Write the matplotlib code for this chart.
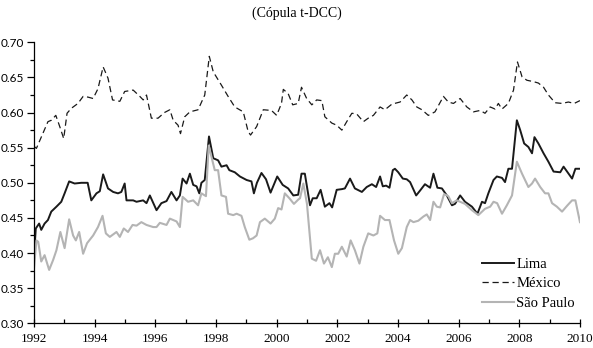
import matplotlib.pyplot as plt
from matplotlib.ticker import MultipleLocator, FormatStrFormatter

# series (decimal year, correlation)
lima_x = [1992.00, 1992.06, 1992.17, 1992.24, 1992.35, 1992.46, 1992.57, 1992.74, 1992.90, 1993.01,
          1993.16, 1993.34, 1993.56, 1993.67, 1993.77, 1993.89, 1994.06, 1994.17, 1994.28, 1994.44,
          1994.61, 1994.77, 1994.88, 1994.99, 1995.05, 1995.27, 1995.38, 1995.60, 1995.71, 1995.82,
          1996.04, 1996.20, 1996.37, 1996.53, 1996.70, 1996.81, 1996.90, 1997.03, 1997.14, 1997.25,
          1997.36, 1997.45, 1997.52, 1997.63, 1997.77, 1997.91, 1998.07, 1998.18, 1998.35, 1998.44,
          1998.62, 1998.79, 1999.01, 1999.17, 1999.25, 1999.35, 1999.50, 1999.65, 1999.80, 2000.02,
          2000.20, 2000.38, 2000.55, 2000.71, 2000.82, 2000.93, 2001.10, 2001.19, 2001.32, 2001.45,
          2001.59, 2001.74, 2001.83, 2001.98, 2002.15, 2002.25, 2002.42, 2002.58, 2002.81, 2002.97,
          2003.14, 2003.28, 2003.41, 2003.50, 2003.61, 2003.72, 2003.83, 2003.90, 2004.01, 2004.16,
          2004.29, 2004.40, 2004.60, 2004.73, 2004.89, 2005.06, 2005.17, 2005.30, 2005.45, 2005.61,
          2005.78, 2005.88, 2006.05, 2006.21, 2006.44, 2006.62, 2006.77, 2006.87, 2006.98, 2007.15,
          2007.26, 2007.43, 2007.53, 2007.64, 2007.76, 2007.92, 2008.03, 2008.16, 2008.30, 2008.42,
          2008.50, 2008.63, 2008.80, 2008.96, 2009.13, 2009.35, 2009.46, 2009.59, 2009.74, 2009.85,
          2010.00]
lima_y = [0.395, 0.435, 0.442, 0.433, 0.442, 0.447, 0.459, 0.466, 0.473, 0.485,
          0.502, 0.499, 0.500, 0.500, 0.500, 0.475, 0.485, 0.488, 0.512, 0.492,
          0.487, 0.485, 0.487, 0.499, 0.475, 0.475, 0.473, 0.475, 0.471, 0.482,
          0.461, 0.471, 0.474, 0.487, 0.475, 0.482, 0.506, 0.499, 0.513, 0.497,
          0.495, 0.485, 0.500, 0.504, 0.566, 0.535, 0.532, 0.523, 0.525, 0.518,
          0.515, 0.509, 0.504, 0.502, 0.485, 0.500, 0.514, 0.505, 0.486, 0.509,
          0.497, 0.492, 0.482, 0.483, 0.513, 0.513, 0.468, 0.478, 0.478, 0.490,
          0.466, 0.471, 0.465, 0.490, 0.491, 0.492, 0.506, 0.492, 0.487, 0.494,
          0.498, 0.494, 0.509, 0.495, 0.496, 0.493, 0.518, 0.520, 0.515, 0.506,
          0.505, 0.501, 0.482, 0.489, 0.498, 0.493, 0.513, 0.493, 0.492, 0.482,
          0.468, 0.470, 0.482, 0.473, 0.466, 0.456, 0.473, 0.471, 0.485, 0.504,
          0.509, 0.507, 0.501, 0.520, 0.520, 0.589, 0.575, 0.556, 0.551, 0.542,
          0.565, 0.556, 0.542, 0.530, 0.516, 0.515, 0.523, 0.515, 0.506, 0.520,
          0.520]

mexico_x = [1992.00, 1992.08, 1992.46, 1992.57, 1992.72, 1992.85, 1992.98, 1993.09, 1993.23, 1993.45,
            1993.62, 1993.78, 1993.95, 1994.11, 1994.28, 1994.44, 1994.59, 1994.83, 1994.99, 1995.27,
            1995.49, 1995.60, 1995.71, 1995.87, 1996.09, 1996.30, 1996.48, 1996.59, 1996.75, 1996.83,
            1996.97, 1997.14, 1997.41, 1997.63, 1997.78, 1997.91, 1998.18, 1998.40, 1998.62, 1998.90,
            1999.06, 1999.14, 1999.34, 1999.56, 1999.83, 2000.00, 2000.16, 2000.22, 2000.38, 2000.53,
            2000.71, 2000.82, 2000.99, 2001.16, 2001.32, 2001.49, 2001.59, 2001.82, 2001.98, 2002.15,
            2002.31, 2002.48, 2002.64, 2002.86, 2003.02, 2003.19, 2003.41, 2003.57, 2003.80, 2004.07,
            2004.29, 2004.46, 2004.62, 2004.79, 2005.00, 2005.22, 2005.50, 2005.66, 2005.83, 2006.05,
            2006.27, 2006.49, 2006.71, 2006.87, 2007.04, 2007.20, 2007.31, 2007.43, 2007.64, 2007.81,
            2007.94, 2008.09, 2008.25, 2008.47, 2008.63, 2008.80, 2008.96, 2009.18, 2009.41, 2009.62,
            2009.81, 2010.00]
mexico_y = [0.552, 0.549, 0.587, 0.589, 0.596, 0.580, 0.563, 0.599, 0.606, 0.613,
            0.623, 0.622, 0.620, 0.634, 0.665, 0.649, 0.618, 0.616, 0.630, 0.632,
            0.623, 0.618, 0.625, 0.592, 0.592, 0.600, 0.604, 0.589, 0.582, 0.570,
            0.594, 0.601, 0.604, 0.625, 0.680, 0.658, 0.639, 0.623, 0.608, 0.601,
            0.573, 0.568, 0.580, 0.604, 0.603, 0.596, 0.613, 0.633, 0.627, 0.611,
            0.613, 0.636, 0.620, 0.611, 0.618, 0.617, 0.594, 0.585, 0.582, 0.575,
            0.587, 0.599, 0.598, 0.587, 0.592, 0.596, 0.608, 0.604, 0.612, 0.615,
            0.625, 0.618, 0.608, 0.604, 0.596, 0.601, 0.623, 0.615, 0.613, 0.620,
            0.608, 0.601, 0.603, 0.599, 0.608, 0.605, 0.613, 0.605, 0.613, 0.632,
            0.672, 0.651, 0.646, 0.644, 0.642, 0.636, 0.625, 0.614, 0.613, 0.615,
            0.613, 0.617]

sp_x = [1992.00, 1992.08, 1992.14, 1992.24, 1992.35, 1992.50, 1992.63, 1992.74, 1992.87, 1993.01,
        1993.16, 1993.29, 1993.38, 1993.49, 1993.62, 1993.75, 1993.95, 1994.11, 1994.26, 1994.37,
        1994.50, 1994.72, 1994.83, 1994.96, 1995.10, 1995.25, 1995.38, 1995.54, 1995.71, 1995.93,
        1996.04, 1996.15, 1996.37, 1996.48, 1996.70, 1996.81, 1996.90, 1997.08, 1997.25, 1997.41,
        1997.52, 1997.67, 1997.76, 1997.96, 1998.07, 1998.18, 1998.33, 1998.40, 1998.57, 1998.68,
        1998.84, 1998.95, 1999.10, 1999.22, 1999.34, 1999.45, 1999.61, 1999.80, 1999.94, 2000.05,
        2000.16, 2000.27, 2000.42, 2000.57, 2000.71, 2000.77, 2000.88, 2001.00, 2001.16, 2001.30,
        2001.43, 2001.56, 2001.69, 2001.82, 2001.92, 2002.03, 2002.15, 2002.31, 2002.44, 2002.58,
        2002.73, 2002.86, 2003.02, 2003.19, 2003.32, 2003.41, 2003.57, 2003.72, 2003.87, 2004.01,
        2004.13, 2004.29, 2004.40, 2004.51, 2004.67, 2004.84, 2004.95, 2005.06, 2005.17, 2005.28,
        2005.39, 2005.52, 2005.66, 2005.78, 2005.94, 2006.05, 2006.21, 2006.44, 2006.65, 2006.87,
        2007.04, 2007.15, 2007.27, 2007.43, 2007.59, 2007.76, 2007.92, 2008.09, 2008.30, 2008.42,
        2008.52, 2008.69, 2008.85, 2008.96, 2009.08, 2009.24, 2009.41, 2009.59, 2009.74, 2009.85,
        2010.00]
sp_y = [0.378, 0.418, 0.416, 0.388, 0.397, 0.376, 0.390, 0.404, 0.430, 0.407,
        0.448, 0.425, 0.418, 0.430, 0.399, 0.414, 0.425, 0.437, 0.453, 0.428,
        0.423, 0.430, 0.423, 0.435, 0.430, 0.440, 0.439, 0.444, 0.440, 0.437,
        0.437, 0.443, 0.440, 0.449, 0.445, 0.437, 0.480, 0.473, 0.475, 0.468,
        0.485, 0.481, 0.553, 0.518, 0.518, 0.482, 0.480, 0.456, 0.454, 0.456,
        0.453, 0.437, 0.419, 0.421, 0.425, 0.444, 0.449, 0.442, 0.449, 0.464,
        0.462, 0.485, 0.478, 0.470, 0.476, 0.478, 0.499, 0.470, 0.392, 0.389,
        0.404, 0.385, 0.394, 0.380, 0.399, 0.399, 0.409, 0.395, 0.418, 0.404,
        0.385, 0.409, 0.428, 0.425, 0.428, 0.453, 0.447, 0.447, 0.418, 0.399,
        0.407, 0.437, 0.447, 0.444, 0.446, 0.452, 0.455, 0.447, 0.473, 0.466,
        0.465, 0.484, 0.481, 0.471, 0.475, 0.473, 0.470, 0.461, 0.454, 0.463,
        0.466, 0.473, 0.471, 0.456, 0.468, 0.482, 0.530, 0.513, 0.494, 0.499,
        0.506, 0.494, 0.485, 0.485, 0.471, 0.466, 0.459, 0.468, 0.475, 0.475,
        0.444]

fig = plt.figure(figsize=(5.93, 3.48), dpi=100)
ax = fig.add_axes([0.0573, 0.071, 0.9207, 0.8074])

ax.plot(lima_x, lima_y, color='#1a1a1a', lw=1.4, label='Lima')
ax.plot(mexico_x, mexico_y, color='#1a1a1a', lw=0.9, ls=(0, (5, 3)), label='México')
ax.plot(sp_x, sp_y, color='#b4b4b4', lw=1.5, label='São Paulo')

ax.set_xlim(1992, 2010)
ax.set_ylim(0.30, 0.70)
ax.xaxis.set_major_locator(MultipleLocator(2))
ax.xaxis.set_minor_locator(MultipleLocator(1))
ax.yaxis.set_major_locator(MultipleLocator(0.05))
ax.yaxis.set_minor_locator(MultipleLocator(0.025))
ax.yaxis.set_major_formatter(FormatStrFormatter('%.2f'))

for s in ['top', 'right']:
    ax.spines[s].set_visible(False)
for s in ['left', 'bottom']:
    ax.spines[s].set_linewidth(0.9)

ax.tick_params(axis='x', which='major', direction='inout', length=6, width=0.9, pad=4)
ax.tick_params(axis='x', which='minor', direction='in', length=3, width=0.9)
ax.tick_params(axis='y', which='major', direction='out', length=5, width=0.9, pad=2)
ax.tick_params(axis='y', which='minor', direction='out', length=3, width=0.9)
for lab in ax.get_xticklabels():
    lab.set_fontfamily('Liberation Serif')
    lab.set_fontsize(9.5)
for lab in ax.get_yticklabels():
    lab.set_fontfamily('Lato')
    lab.set_fontsize(8.5)

fig.text(0.5, 0.962, '(Cópula t-DCC)', ha='center', va='center',
         family='Liberation Serif', fontsize=10)

leg = ax.legend(loc='lower right', bbox_to_anchor=(1.015, 0.0), frameon=False,
                handlelength=2.2, handletextpad=0.15, labelspacing=0.45,
                prop={'family': 'Liberation Serif', 'size': 10.5})

fig.savefig('out.png', dpi=100)
